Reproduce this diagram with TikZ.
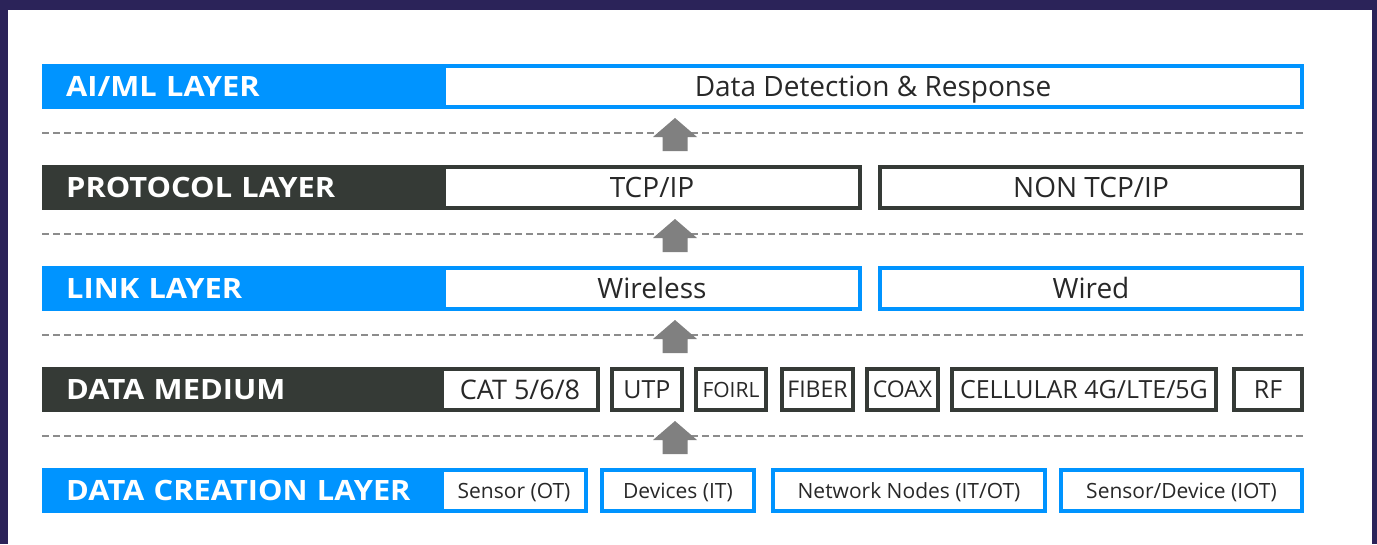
\documentclass[tikz,border=0pt]{standalone}
\usepackage{fontspec}
\setmainfont{Open Sans}
\newfontfamily\layerfont{Open Sans}[FakeStretch=1.1]
\usepackage{tikz}
\usetikzlibrary{positioning}
\definecolor{bgpurple}{RGB}{43,35,89}
\definecolor{layerblue}{RGB}{0,148,255}
\definecolor{layerdark}{RGB}{53,58,54}
\definecolor{boxtext}{RGB}{40,40,40}
\definecolor{arrowgray}{RGB}{128,128,128}
\definecolor{sepgray}{RGB}{140,140,140}
\newcommand{\fsz}[1]{\fontsize{#1}{#1}\selectfont}

\tikzset{
  layerbar/.style={anchor=west, minimum height=45pt, text width=352pt, inner xsep=24pt,
    inner ysep=0pt, text height=20pt, text depth=0pt, text=white, font=\layerfont\bfseries\fsz{28}},
  bluebar/.style={layerbar, fill=layerblue},
  darkbar/.style={layerbar, fill=layerdark},
  cell/.style={fill=white, minimum height=41pt, inner sep=0pt, line width=4pt, text=boxtext,
    text height=20pt, text depth=0pt, font=\fsz{28}},
  bluecell/.style={cell, draw=layerblue},
  darkcell/.style={cell, draw=layerdark},
  sep/.style={sepgray, line width=1.5pt, dash pattern=on 7pt off 4pt},
  uparrow/.pic={\fill[arrowgray] (-12.5,18) -- (-12.5,4) -- (-22,4) -- (0,-15) -- (22,4) -- (12.5,4) -- (12.5,18) -- cycle;}
}

\begin{document}
\begin{tikzpicture}[x=1pt, y=-1pt]
  \fill[bgpurple] (0,0) rectangle (1377,544);
  \fill[white] (8,10) rectangle (1372,544);
  \useasboundingbox (0,0) rectangle (1377,544);

  % separators and arrows between the layers
  \foreach \y in {133,234,335,436} {
    \draw[sep] (42,\y) -- (1304,\y);
    \pic at (675,\y) {uparrow};
  }

  % layer names
  \node[bluebar] (aiml) at (42,86.5) {AI/ML LAYER};
  \node[darkbar] (proto) at (42,187.5) {PROTOCOL LAYER};
  \node[bluebar] (link) at (42,288.5) {LINK LAYER};
  \node[darkbar] (medium) at (42,389.5) {DATA MEDIUM};
  \node[bluebar] (create) at (42,490.5) {DATA CREATION LAYER};

  % ai/ml
  \node[bluecell, minimum width=858pt] (ddr) at (873,86.5) {Data Detection \& Response};

  % protocol
  \node[darkcell, minimum width=416pt] (tcp) at (652,187.5) {TCP/IP};
  \node[darkcell, minimum width=422pt] (ntcp) at (1091,187.5) {NON TCP/IP};

  % link
  \node[bluecell, minimum width=416pt] (wless) at (652,288.5) {Wireless};
  \node[bluecell, minimum width=422pt] (wired) at (1091,288.5) {Wired};

  % medium
  \node[darkcell, minimum width=156pt, font=\fsz{27}, text height=19pt] (cat) at (520,389.5) {CAT 5/6/8};
  \node[darkcell, minimum width=70pt, font=\fsz{25}, text height=18pt] (utp) at (647,389.5) {UTP};
  \node[darkcell, minimum width=70pt, font=\fsz{21}, text height=15pt] (foirl) at (731,389.5) {FOIRL};
  \node[darkcell, minimum width=71pt, font=\fsz{23}, text height=16.5pt] (fiber) at (817.5,389.5) {FIBER};
  \node[darkcell, minimum width=71pt, font=\fsz{23}, text height=16.5pt] (coax) at (902.5,389.5) {COAX};
  \node[darkcell, minimum width=264pt, font=\fsz{25}, text height=18pt] (cell) at (1084,389.5) {CELLULAR 4G/LTE/5G};
  \node[darkcell, minimum width=68pt, font=\fsz{25}, text height=18pt] (rf) at (1268,389.5) {RF};

  % creation
  \node[bluecell, minimum width=144pt, font=\fsz{21}, text height=15pt] (sot) at (514,490.5) {Sensor (OT)};
  \node[bluecell, minimum width=152pt, font=\fsz{21}, text height=15pt] (dit) at (678,490.5) {Devices (IT)};
  \node[bluecell, minimum width=272pt, font=\fsz{21}, text height=15pt] (nodes) at (909,490.5) {Network Nodes (IT/OT)};
  \node[bluecell, minimum width=241pt, font=\fsz{21}, text height=15pt] (iot) at (1181.5,490.5) {Sensor/Device (IOT)};
\end{tikzpicture}
\end{document}
